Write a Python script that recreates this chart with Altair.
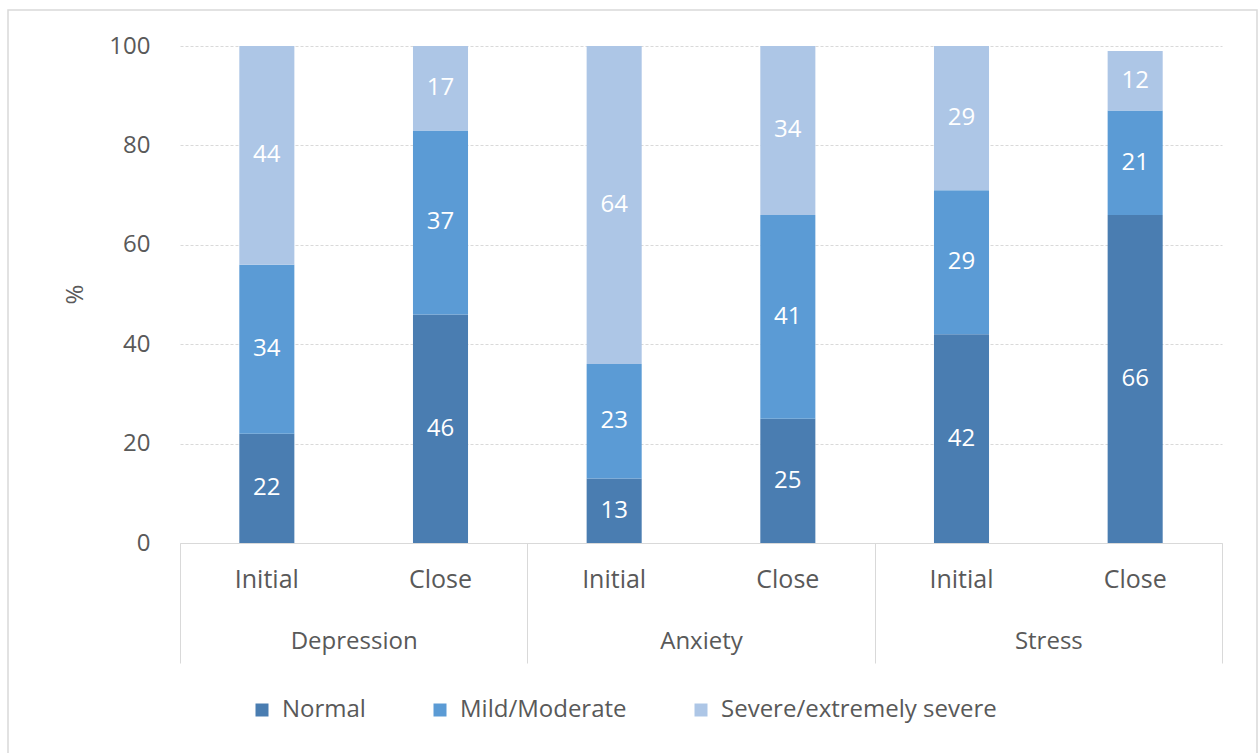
import altair as alt
import pandas as pd

# Share of respondents (%) by severity, per measure and time point
measures = ["Depression", "Depression", "Anxiety", "Anxiety", "Stress", "Stress"]
phases = ["Initial", "Close", "Initial", "Close", "Initial", "Close"]
normal = [22, 46, 13, 25, 42, 66]
mild_moderate = [34, 37, 23, 41, 29, 21]
severe = [44, 17, 64, 34, 29, 12]

levels = ["Normal", "Mild/Moderate", "Severe/extremely severe"]
level_colors = ["#4a7db1", "#5b9bd5", "#adc6e6"]
measure_order = ["Depression", "Anxiety", "Stress"]
phase_order = ["Initial", "Close"]

rows = []
for i in range(len(measures)):
    for k, (lvl, vals) in enumerate(zip(levels, [normal, mild_moderate, severe])):
        rows.append({"measure": measures[i], "phase": phases[i],
                     "level": lvl, "order": k, "value": vals[i]})
df = pd.DataFrame(rows)

FONT = "Open Sans"
GREY_TEXT = "#595959"
GREY_LINE = "#d9d9d9"

x_enc = alt.X(
    "measure:N", sort=measure_order, title=None,
    scale=alt.Scale(paddingInner=0, paddingOuter=0),
    axis=alt.Axis(
        labelAngle=0, labelFontSize=24, labelFont=FONT, labelColor=GREY_TEXT,
        domainColor=GREY_LINE, tickColor=GREY_LINE, tickSize=120,
        tickBand="extent", labelPadding=-22, labelBaseline="middle",
    ),
)
xoff_enc = alt.XOffset(
    "phase:N", sort=phase_order,
    scale=alt.Scale(paddingInner=0.683, paddingOuter=0.3415),
)

base = alt.Chart(df).transform_stack(
    stack="value", groupby=["measure", "phase"], as_=["y0", "y1"],
    sort=[alt.SortField("order", order="ascending")],
).transform_calculate(mid="(datum.y0 + datum.y1) / 2")

bars = base.mark_bar().encode(
    x=x_enc,
    xOffset=xoff_enc,
    y=alt.Y(
        "y0:Q", title="%",
        scale=alt.Scale(domain=[0, 100], nice=False),
        axis=alt.Axis(
            values=[0, 20, 40, 60, 80, 100], domain=False, ticks=False,
            labelFontSize=24, labelFont=FONT, labelColor=GREY_TEXT,
            labelPadding=30, gridColor=GREY_LINE, gridDash=[3, 2],
            titleFontSize=24, titleFont=FONT, titleColor=GREY_TEXT,
            titleFontWeight="normal", titleX=-105, titleY=248,
            titleAlign="center", titleBaseline="middle",
        ),
    ),
    y2="y1:Q",
    color=alt.Color(
        "level:N", sort=levels,
        scale=alt.Scale(domain=levels, range=level_colors),
        legend=alt.Legend(
            title=None, orient="none", direction="horizontal",
            legendX=70, legendY=652, symbolType="square", symbolSize=169,
            symbolStrokeWidth=0, labelFontSize=24, labelFont=FONT,
            labelColor=GREY_TEXT, labelOffset=8, columnPadding=62,
            labelLimit=0,
        ),
    ),
)

values_text = base.mark_text(
    color="white", fontSize=24, font=FONT, baseline="middle"
).encode(
    x=x_enc,
    xOffset=xoff_enc,
    y=alt.Y("mid:Q"),
    text=alt.Text("value:Q", format=".0f"),
)

phase_text = alt.Chart(df[df["level"] == "Normal"]).mark_text(
    color=GREY_TEXT, fontSize=25, font=FONT, baseline="middle"
).encode(
    x=x_enc,
    xOffset=xoff_enc,
    y=alt.value(534),
    text="phase:N",
)

frame = alt.Chart(df.head(1)).mark_rect(
    fill=None, stroke=GREY_LINE, strokeWidth=1.5, clip=False
).encode(
    x=alt.value(-172), x2=alt.value(1077),
    y=alt.value(-36), y2=alt.value(730),
)

chart = alt.layer(frame, bars, values_text, phase_text).properties(
    width=1042, height=497,
    autosize=alt.AutoSizeParams(type="none"),
    padding={"left": 180, "top": 46, "right": 36, "bottom": 210},
    background="white",
).configure_view(stroke=None)

chart.save("out.html", embed_options={"renderer": "svg", "actions": False})
